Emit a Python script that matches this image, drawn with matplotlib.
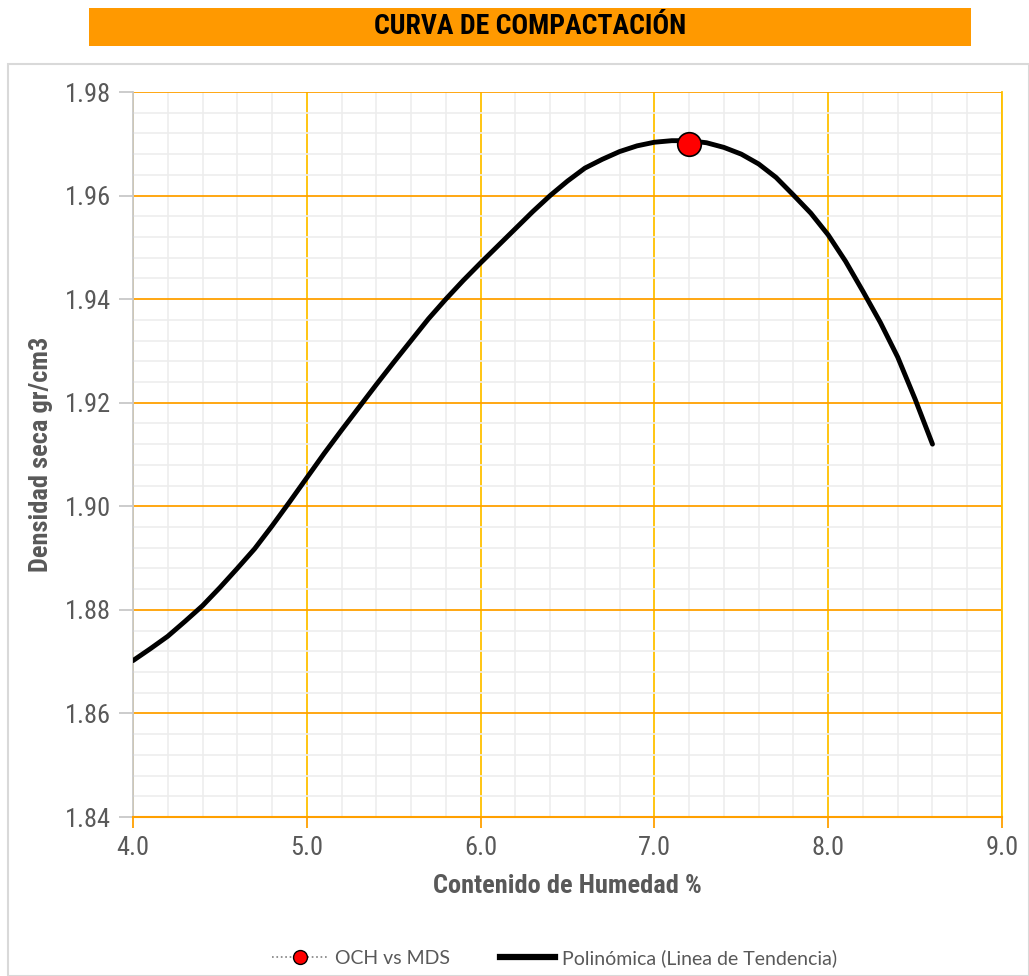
import matplotlib
matplotlib.use("Agg")
import matplotlib.pyplot as plt
from matplotlib import font_manager
from matplotlib.patches import Rectangle
from matplotlib.lines import Line2D
from matplotlib.ticker import MultipleLocator, FormatStrFormatter

# ---- data ----
humedad_trend = [4.0, 4.1, 4.2, 4.3, 4.4, 4.5, 4.6, 4.7, 4.8, 4.9,
                 5.0, 5.1, 5.2, 5.3, 5.4, 5.5, 5.6, 5.7, 5.8, 5.9,
                 6.0, 6.1, 6.2, 6.3, 6.4, 6.5, 6.6, 6.7, 6.8, 6.9,
                 7.0, 7.1, 7.2, 7.3, 7.4, 7.5, 7.6, 7.7, 7.8, 7.9,
                 8.0, 8.1, 8.2, 8.3, 8.4, 8.5, 8.6]
densidad_trend = [1.8702, 1.8725, 1.8749, 1.8778, 1.8808, 1.8843, 1.8880, 1.8918, 1.8962, 1.9008,
                  1.9055, 1.9102, 1.9147, 1.9191, 1.9235, 1.9278, 1.9320, 1.9362, 1.9400, 1.9436,
                  1.9470, 1.9503, 1.9536, 1.9569, 1.9600, 1.9628, 1.9653, 1.9670, 1.9685, 1.9696,
                  1.9703, 1.9706, 1.9706, 1.9702, 1.9693, 1.9680, 1.9661, 1.9635, 1.9601, 1.9566,
                  1.9524, 1.9473, 1.9415, 1.9355, 1.9288, 1.9207, 1.9120]
och = [7.2]
mds = [1.970]

title = "CURVA DE COMPACTACIÓN"
xlabel = "Contenido de Humedad %"
ylabel = "Densidad seca gr/cm3"
legend_labels = ["OCH vs MDS", "Polinómica (Linea de Tendencia)"]

# pick a condensed font if available
names = {f.name for f in font_manager.fontManager.ttflist}
cond_kw = {"family": "DejaVu Sans", "fontstretch": "condensed"}
for cand in ["Roboto Condensed", "Liberation Sans Narrow", "Open Sans Condensed",
             "DejaVu Sans Condensed", "Noto Sans Condensed"]:
    if cand in names:
        cond_kw = {"family": cand}
        break
else:
    for f in font_manager.fontManager.ttflist:
        if ("Condensed" in f.name or "Narrow" in f.name):
            cond_kw = {"family": f.name}
            break

TXT = "#595959"

fig = plt.figure(figsize=(10.29, 9.76), dpi=100)
W, H = 1029, 976

fig.patches.append(Rectangle((8 / W, 0), (W - 8) / W, (H - 64) / H, transform=fig.transFigure,
                             fill=False, edgecolor="#D9D9D9", linewidth=1.5))
fig.patches.append(Rectangle((89 / W, 1 - 46 / H), (971 - 89) / W, 38 / H, transform=fig.transFigure,
                             facecolor="#FF9900", edgecolor="none"))
fig.text(530 / W, 1 - 27 / H, title, ha="center", va="center", fontsize=20,
         fontweight="bold", color="black", **cond_kw)

ax = fig.add_axes([133 / W, 1 - 817 / H, (1002 - 133) / W, (817 - 92) / H])
ax.set_xlim(4.0, 9.0)
ax.set_ylim(1.84, 1.98)

ax.xaxis.set_major_locator(MultipleLocator(1.0))
ax.xaxis.set_minor_locator(MultipleLocator(0.2))
ax.yaxis.set_major_locator(MultipleLocator(0.02))
ax.yaxis.set_minor_locator(MultipleLocator(0.004))
ax.xaxis.set_major_formatter(FormatStrFormatter("%.1f"))
ax.yaxis.set_major_formatter(FormatStrFormatter("%.2f"))

ax.grid(which="minor", color="#EDEDED", linewidth=1.2)
ax.grid(which="major", axis="x", color="#FFC000", linewidth=1.3)
ax.grid(which="major", axis="y", color="#FFA000", linewidth=1.3)
ax.set_axisbelow(True)

ax.spines["top"].set_visible(False)
ax.spines["right"].set_color("#FFC000")
ax.spines["right"].set_linewidth(1.3)
ax.spines["bottom"].set_color("#FFA000")
ax.spines["bottom"].set_linewidth(1.5)
ax.spines["left"].set_color("#C8C8C8")
ax.spines["left"].set_linewidth(1.3)

ax.tick_params(axis="x", which="major", length=8, color="#FFA000", width=1.3,
               labelsize=19, labelcolor=TXT, pad=6)
ax.tick_params(axis="y", which="major", length=10, color="#C8C8C8", width=1.3,
               labelsize=19, labelcolor=TXT, pad=6)
ax.tick_params(which="minor", length=0)
for lab in ax.get_xticklabels() + ax.get_yticklabels():
    lab.set_family(cond_kw["family"])
    if "fontstretch" in cond_kw:
        lab.set_fontstretch(cond_kw["fontstretch"])

ax.plot(humedad_trend, densidad_trend, color="black", linewidth=3.5,
        solid_capstyle="round", solid_joinstyle="round", zorder=3)
ax.plot(och, mds, linestyle="none", marker="o", markersize=17,
        markerfacecolor="#FF0000", markeredgecolor="black", markeredgewidth=1.2, zorder=4)

ax.set_xlabel(xlabel, fontsize=19, fontweight="bold", color=TXT, labelpad=10, **cond_kw)
ax.set_ylabel(ylabel, fontsize=19, fontweight="bold", color=TXT, labelpad=8, **cond_kw)

h1 = Line2D([], [], color="#808080", linestyle=":", linewidth=1.2, marker="o",
            markersize=10, markerfacecolor="#FF0000", markeredgecolor="black")
h2 = Line2D([], [], color="black", linewidth=4.5)
fig.legend([h1, h2], legend_labels, loc="center", bbox_to_anchor=(555 / W, 1 - 958 / H),
           ncol=2, frameon=False, prop={"family": "Lato", "size": 14}, labelcolor=TXT,
           handlelength=2.8, columnspacing=2.6, handletextpad=0.4)

fig.savefig("out.png", dpi=100)
